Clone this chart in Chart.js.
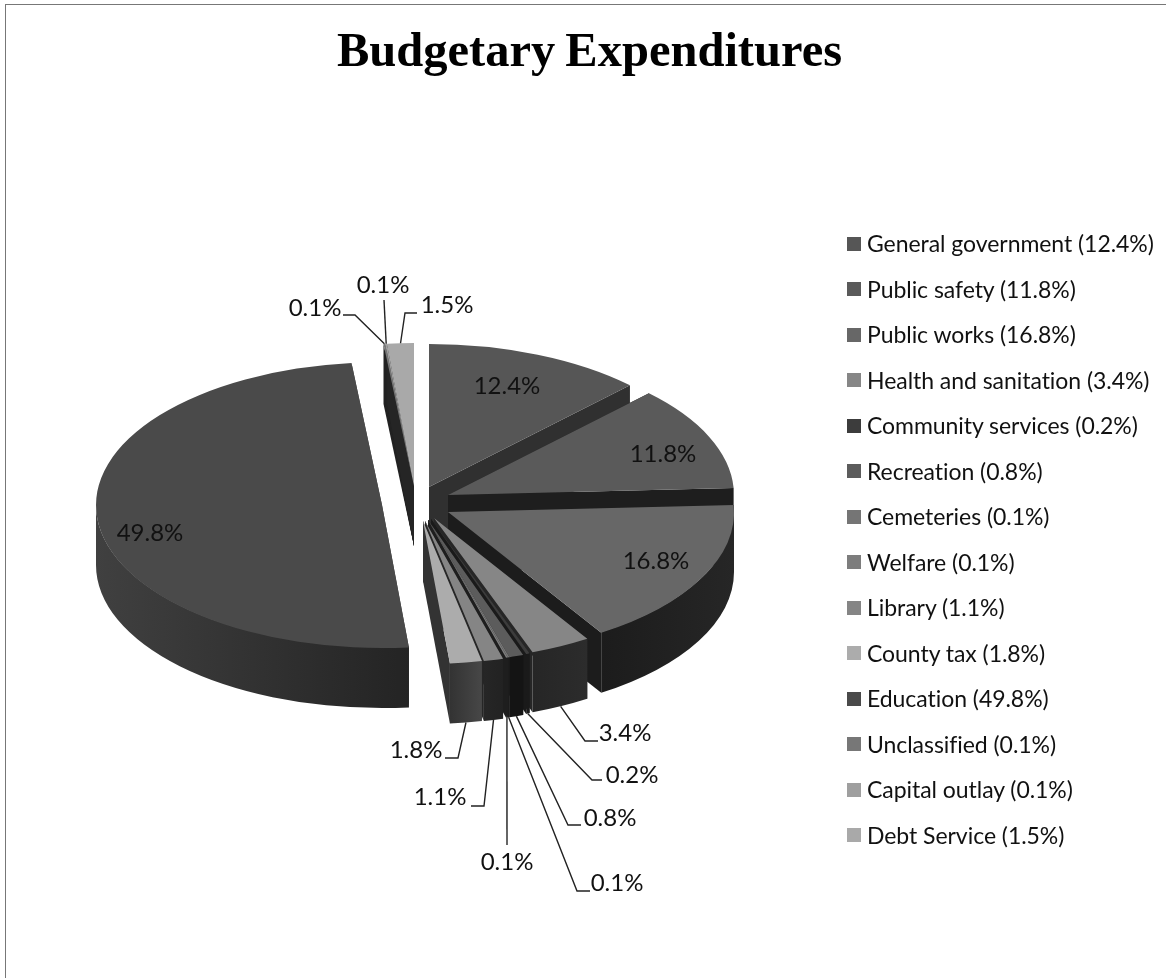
<!DOCTYPE html>
<html>
<head>
<meta charset="utf-8">
<title>Budgetary Expenditures</title>
<script src="https://cdn.jsdelivr.net/npm/chart.js@4"></script>
<style>
    html, body { margin: 0; padding: 0; background: #fff; width: 1166px; height: 978px; overflow: hidden; }
    #frame { position: absolute; left: 5px; top: 4px; right: 0; bottom: 0; border-left: 1px solid #777; border-top: 1px solid #777; }
    #chart { position: absolute; left: 0; top: 0; filter: blur(0.4px); }
    #legend { position: absolute; left: 847px; top: 221px; margin: 0; padding: 0; list-style: none;
        font: 23px Lato, sans-serif; font-variant-ligatures: none; letter-spacing: -0.05px; color: #111; line-height: 45.5px; white-space: nowrap; filter: blur(0.4px); }
    #legend li { height: 45.5px; display: flex; align-items: center; }
    #legend i { width: 14px; height: 14px; margin-right: 6px; flex: none; }
</style>
</head>
<body>
<div id="frame"></div>
<canvas id="chart" width="1166" height="978"></canvas>
<ul id="legend"></ul>

<script>
const categories = ["General government", "Public safety", "Public works", "Health and sanitation", "Community services", "Recreation", "Cemeteries", "Welfare", "Library", "County tax", "Education", "Unclassified", "Capital outlay", "Debt Service"];
const shares = [12.4, 11.8, 16.8, 3.4, 0.2, 0.8, 0.1, 0.1, 1.1, 1.8, 49.8, 0.1, 0.1, 1.5];

const topColors = ["#565656", "#5a5a5a", "#676767", "#868686", "#3c3c3c", "#5c5c5c", "#757575", "#7d7d7d", "#858585", "#acacac", "#4a4a4a", "#777777", "#9f9f9f", "#a9a9a9"];
const wallLeft = ["#303030", "#1e1e1e", "#1c1c1c", "#262626", "#1a1a1a", "#141414", "#1c1c1c", "#1e1e1e", "#262626", "#333333", "#404040", "#222222", "#222222", "#252525"];
const wallRight = ["#303030", "#1e1e1e", "#262626", "#2c2c2c", "#1a1a1a", "#141414", "#1c1c1c", "#1e1e1e", "#222222", "#474747", "#242424", "#222222", "#222222", "#252525"];

// how far each slice is pulled out of the pie, on screen
const explodeX = [4, 23, 23, 9, 6, 3, 3, 3, 0, -2, -43, -11, -11, -11];
const explodeY = [-18, -10, 7, 13, 14, 15, 15, 15, 16, 16, 0, -19, -19, -19];

const pieShiftX = -164.5;
const pieShiftY = 0;
const squash = 0.5;
const depth = 60;
const drawOrder = [10, 11, 12, 13, 0, 1, 2, 3, 4, 5, 6, 7, 8, 9];

const insideLabels = { 0: [507, 386], 1: [663, 454], 2: [656, 561], 10: [150, 533] };
const callouts = {
    3: { text: [625, 733], line: [[585, 741], [598, 741]] },
    4: { text: [632, 775], line: [[592, 780], [602, 780]] },
    5: { text: [610, 818], line: [[568, 825], [581, 825]] },
    6: { text: [617, 883], line: [[577, 891], [590, 891]] },
    7: { text: [507, 862], line: [[507, 845]] },
    8: { text: [440, 797], line: [[484, 806], [471, 806]] },
    9: { text: [416, 750], line: [[458, 758], [445, 758]] },
    11: { text: [315, 308], line: [[355, 315], [343, 315]] },
    12: { text: [383, 285], line: [[384, 300]] },
    13: { text: [447, 305], line: [[405, 313], [417, 313]] }
};

function pctText(v) {
    return v.toFixed(1) + "%";
}

function screenApex(arc, cy) {
    return { x: arc.x, y: cy + (arc.y - cy) * squash };
}

const pie3d = {
    id: "pie3d",
    afterDatasetsUpdate(chart) {
        chart.getDatasetMeta(0).data.forEach((arc, i) => {
            arc.x += pieShiftX + explodeX[i];
            arc.y += (pieShiftY + explodeY[i]) / squash;
        });
    },
    beforeDraw(chart) {
        chart.ctx.wordSpacing = "-2px";
    },
    beforeDatasetsDraw(chart) {
        const ctx = chart.ctx;
        const cy = (chart.chartArea.top + chart.chartArea.bottom) / 2;
        const arcs = chart.getDatasetMeta(0).data;

        drawOrder.forEach((i) => {
            const arc = arcs[i];
            const p = screenApex(arc, cy);
            const rx = arc.outerRadius;
            const ry = arc.outerRadius * squash;

            // the two cut faces
            ctx.fillStyle = wallLeft[i];
            [arc.startAngle, arc.endAngle].forEach((a) => {
                const ex = p.x + Math.cos(a) * rx;
                const ey = p.y + Math.sin(a) * ry;
                ctx.beginPath();
                ctx.moveTo(p.x, p.y);
                ctx.lineTo(ex, ey);
                ctx.lineTo(ex, ey + depth);
                ctx.lineTo(p.x, p.y + depth);
                ctx.closePath();
                ctx.fill();
            });

            // outer wall, only the part that faces the viewer
            const a0 = Math.max(arc.startAngle, 0);
            const a1 = Math.min(arc.endAngle, Math.PI);
            if (a1 > a0) {
                const xLeft = p.x + Math.cos(a1) * rx;
                const xRight = p.x + Math.cos(a0) * rx;
                const grad = ctx.createLinearGradient(xLeft, 0, xRight, 0);
                grad.addColorStop(0, wallLeft[i]);
                grad.addColorStop(1, wallRight[i]);
                ctx.fillStyle = grad;
                ctx.beginPath();
                ctx.ellipse(p.x, p.y, rx, ry - 1, 0, a0, a1); // tucked under the top face
                ctx.ellipse(p.x, p.y + depth, rx, ry, 0, a1, a0, true);
                ctx.closePath();
                ctx.fill();
            }
        });

        ctx.save();
        ctx.translate(0, cy * (1 - squash));
        ctx.scale(1, squash);
    },
    afterDatasetsDraw(chart) {
        const ctx = chart.ctx;
        ctx.restore();

        const cy = (chart.chartArea.top + chart.chartArea.bottom) / 2;
        const arcs = chart.getDatasetMeta(0).data;

        ctx.strokeStyle = "#222";
        ctx.lineWidth = 1.4;
        Object.keys(callouts).forEach((key) => {
            const i = Number(key);
            const arc = arcs[i];
            const p = screenApex(arc, cy);
            const mid = (arc.startAngle + arc.endAngle) / 2;
            const frontDrop = Math.sin(mid) > 0 ? depth : 0;
            ctx.beginPath();
            ctx.moveTo(p.x + Math.cos(mid) * arc.outerRadius, p.y + Math.sin(mid) * arc.outerRadius * squash + frontDrop);
            callouts[i].line.forEach((pt) => ctx.lineTo(pt[0], pt[1]));
            ctx.stroke();
        });

        ctx.font = "24px Lato, sans-serif";
        ctx.fillStyle = "#111";
        ctx.textAlign = "center";
        ctx.textBaseline = "middle";
        Object.keys(insideLabels).forEach((i) => {
            ctx.fillText(pctText(shares[i]), insideLabels[i][0], insideLabels[i][1]);
        });
        Object.keys(callouts).forEach((i) => {
            ctx.fillText(pctText(shares[i]), callouts[i].text[0], callouts[i].text[1]);
        });
    }
};

const chart = new Chart(document.getElementById("chart"), {
    type: "pie",
    data: {
        labels: categories,
        datasets: [{
            data: shares,
            backgroundColor: topColors,
            borderWidth: 0,
            clip: false
        }]
    },
    options: {
        responsive: false,
        animation: false,
        events: [],
        radius: 286,
        layout: { padding: { left: 13, bottom: 77 } },
        plugins: {
            legend: { display: false },
            tooltip: { enabled: false },
            title: {
                display: true,
                text: "Budgetary Expenditures",
                color: "#000",
                font: { family: "'Liberation Serif', serif", size: 48.5, weight: "bold" },
                padding: { top: 24, bottom: 27 }
            }
        }
    },
    plugins: [pie3d]
});

const legendEl = document.getElementById("legend");
categories.forEach((name, i) => {
    const li = document.createElement("li");
    const box = document.createElement("i");
    box.style.background = topColors[i];
    li.appendChild(box);
    li.appendChild(document.createTextNode(name + " (" + pctText(shares[i]) + ")"));
    legendEl.appendChild(li);
});
</script>
</body>
</html>
